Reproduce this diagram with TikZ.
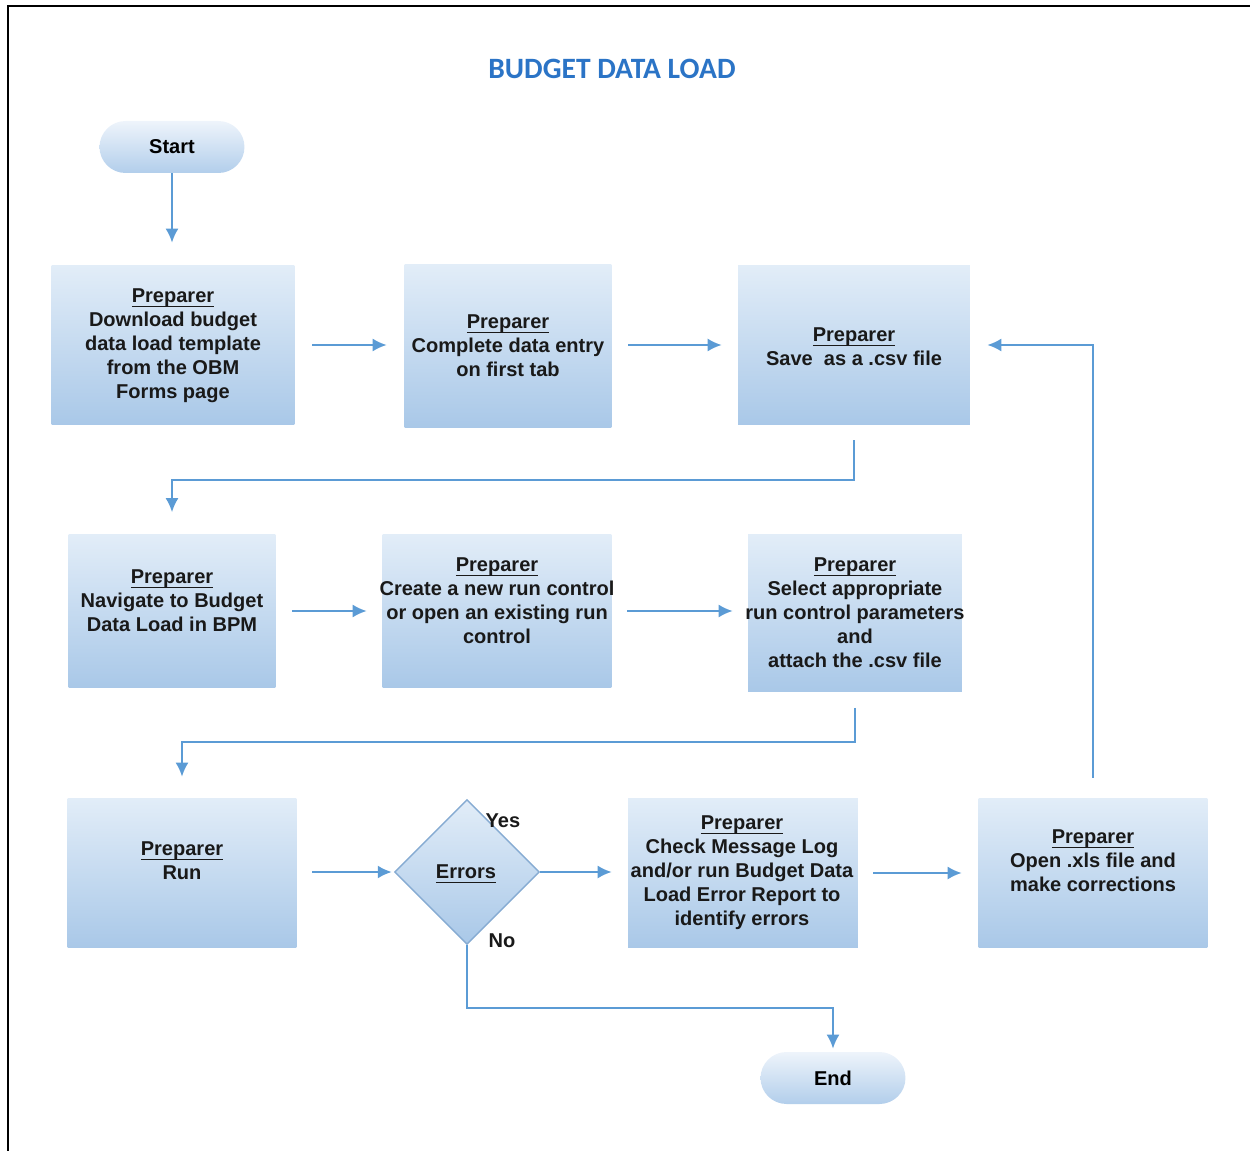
\documentclass[tikz,border=0pt]{standalone}
\usepackage{fontspec}
\setmainfont{Liberation Sans}
\newfontfamily\titlefont{Carlito}
\usetikzlibrary{arrows.meta,shapes.geometric,shapes.misc}
\definecolor{arrowblue}{HTML}{5B9BD5}
\definecolor{boxtop}{HTML}{E2EDF8}
\definecolor{boxbot}{HTML}{A9C8E8}
\definecolor{termtop}{HTML}{EEF4FB}
\definecolor{termbot}{HTML}{B2CEEB}
\definecolor{diaedge}{HTML}{86ABD2}
\definecolor{titleblue}{HTML}{2B74C6}
\newcommand\prepul[1]{\setbox0\hbox{#1}\rlap{\rule[-2.3pt]{\wd0}{0.7pt}}\box0}
\begin{document}
\begin{tikzpicture}[x=0.02cm,y=-0.02cm,
  boxfont/.style={font=\fontsize{11.4pt}{13.66pt}\selectfont\bfseries},
  procbox/.style={rectangle, draw=none, top color=boxtop, bottom color=boxbot, inner sep=0pt},
  termbox/.style={rounded rectangle, draw=none, top color=termtop, bottom color=termbot,
     minimum width=2.9cm, minimum height=1.04cm, inner sep=0pt, boxfont},
  txt/.style={boxfont, align=center, inner sep=0pt, text=black!90},
  arr/.style={draw=arrowblue, line width=0.04cm, -{Latex[length=0.28cm,width=0.26cm]}},
  lbl/.style={boxfont, inner sep=0pt, text=black!90}]
\useasboundingbox (0,0) rectangle (1250,1151);
% frame
\draw[line width=0.04cm, black] (8,1151) -- (8,6) -- (1250,6);
% title
\node[font=\titlefont\fontsize{16.8pt}{19pt}\selectfont\bfseries, text=titleblue, inner sep=0pt] (title) at (612,69) {BUDGET DATA LOAD};
% terminals
\node[termbox] (start) at (172,147) {Start};
\node[termbox] (end) at (833,1078) {End};
% process boxes
\node[procbox, minimum width=4.86cm, minimum height=3.2cm] (b1) at (173,345) {};
\node[procbox, minimum width=4.14cm, minimum height=3.26cm] (b2) at (508,346) {};
\node[procbox, minimum width=4.64cm, minimum height=3.2cm] (b3) at (854,345) {};
\node[procbox, minimum width=4.14cm, minimum height=3.06cm] (b4) at (172,611) {};
\node[procbox, minimum width=4.58cm, minimum height=3.06cm] (b5) at (497,611) {};
\node[procbox, minimum width=4.28cm, minimum height=3.14cm] (b6) at (855,613) {};
\node[procbox, minimum width=4.58cm, minimum height=3.0cm] (run) at (182,873) {};
\node[procbox, minimum width=4.6cm, minimum height=3.0cm] (b8) at (743,873) {};
\node[procbox, minimum width=4.58cm, minimum height=3.0cm] (b9) at (1093,873) {};
% decision
\node[diamond, aspect=1, draw=diaedge, line width=0.03cm, top color=boxtop, bottom color=boxbot,
      minimum width=2.9cm, minimum height=2.9cm, inner sep=0pt] (dec) at (467,872) {};
% texts
\node[txt] (t1) at (173,346) {\prepul{Preparer}\\Download budget\\data load template\\from the OBM\\Forms page};
\node[txt] (t2) at (508,346) {\prepul{Preparer}\\Complete data entry\\on first tab};
\node[txt] (t3) at (854,347) {\prepul{Preparer}\\Save \ as a .csv file};
\node[txt] (t4) at (172,601) {\prepul{Preparer}\\Navigate to Budget\\Data Load in BPM};
\node[txt] (t5) at (497,601) {\prepul{Preparer}\\Create a new run control\\or open an existing run\\control};
\node[txt] (t6) at (855,613) {\prepul{Preparer}\\Select appropriate\\run control parameters\\and\\attach the .csv file};
\node[txt] (t7) at (182,861) {\prepul{Preparer}\\Run};
\node[txt] (t8) at (742,873) {\prepul{Preparer}\\Check Message Log\\and/or run Budget Data\\Load Error Report to\\identify errors};
\node[txt] (t9) at (1093,861) {\prepul{Preparer}\\Open .xls file and\\make corrections};
\node[txt] (tdec) at (466,874) {\prepul{Errors}};
\node[lbl] (yes) at (503,821) {Yes};
\node[lbl] (no) at (502,941) {No};
% connectors
\draw[arr, shorten >=0.44cm] (start.south) -- (start.south |- b1.north);
\draw[arr, shorten <=0.35cm, shorten >=0.35cm] (b1.east) -- (b1.east -| b2.west);
\draw[arr, shorten <=0.33cm, shorten >=0.32cm] (b2.east |- b3.west) -- (b3.west);
\draw[arr, shorten <=0.3cm, shorten >=0.44cm] (b3.south) -- ++(0,55) -| (b4.north);
\draw[arr, shorten <=0.33cm, shorten >=0.31cm] (b4.east) -- (b4.east -| b5.west);
\draw[arr, shorten <=0.31cm, shorten >=0.3cm] (b5.east) -- (b5.east -| b6.west);
\draw[arr, shorten <=0.32cm, shorten >=0.42cm] (b6.south) -- ++(0,50) -| (run.north);
\draw[arr, shorten <=0.31cm, shorten >=0.04cm] (run.east |- dec.west) -- (dec.west);
\draw[arr, shorten >=0.32cm] (dec.east) -- (dec.east -| b8.west);
\draw[arr, shorten <=0.3cm, shorten >=0.33cm] (b8.east) -- (b8.east -| b9.west);
\draw[arr, shorten <=0.4cm, shorten >=0.34cm] (b9.north) |- (b3.east);
\draw[arr, shorten >=0.06cm] (dec.south) -- ++(0,63) -| (end.north);
\end{tikzpicture}
\end{document}
